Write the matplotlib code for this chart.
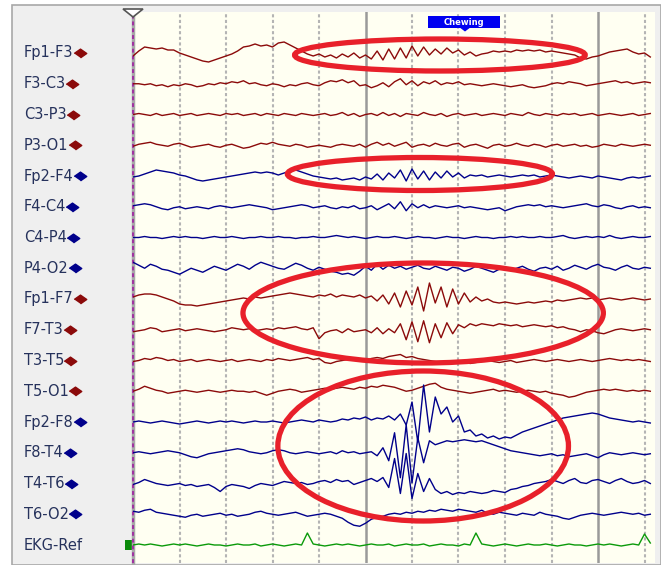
import numpy as np
import matplotlib.pyplot as plt
from matplotlib.patches import Ellipse, Rectangle, Polygon
from matplotlib.lines import Line2D

# montage channels (label, hemisphere)
labels = ["Fp1-F3", "F3-C3", "C3-P3", "P3-O1", "Fp2-F4", "F4-C4", "C4-P4", "P4-O2",
          "Fp1-F7", "F7-T3", "T3-T5", "T5-O1", "Fp2-F8", "F8-T4", "T4-T6", "T6-O2", "EKG-Ref"]
sides = ["L", "L", "L", "L", "R", "R", "R", "R", "L", "L", "L", "L", "R", "R", "R", "R", "E"]

# traced deflections (screen px, up = positive), ~0.125 s per sample over 11.1 s
fp1_f3 = [-3, 2, 6, 5, 4, 5, 3, 3, 0, -2, -4, -6, -8, -9, -7, -5, -3, -1, 2, 6, 7, 9, 7, 8, 6, 10, 11, 8, 5, 2,
          -1, -3, -1, -4, -2, -5, -1, -4, 0, -5, -2, -6, 2, -7, 4, -6, 5, -5, 7, -3, 6, -2, 4, -1, 5, 0, 3, -2, 1, -3,
          -1, 0, 2, 1, 2, 1, 3, 2, 3, 2, 3, 1, 2, 1, 0, -1, -2, -5, -6, -4, -3, -1, 1, 2, 3, 4, 1, -1, 0, -4]
f3_c3 = [0, 0, -1, 0, -2, -1, -3, -1, -2, 0, -1, -3, -2, 0, -1, 1, 0, 2, 1, 3, 0, 1, -1, -2, 0, -1, -3, -1, -2, 0,
         1, -1, -2, 1, 3, 2, 4, 1, 3, -2, -1, -4, -2, 1, -3, 2, 5, -1, 3, -2, 2, 0, 3, -1, 1, 0, 2, -1, 0, -1,
         -2, -1, 0, -1, -2, -3, -2, -1, -3, -4, -3, -2, 0, 1, 0, 2, 1, 0, -2, -1, 0, 1, 2, 3, 1, 2, 0, 1, 2, 1]
c3_p3 = [0, 1, 0, -1, 1, -1, 0, 1, -1, 0, 1, -1, 0, 1, 0, -1, 1, 0, 1, -1, 0, 1, -1, 1, 0, -1, 1, 0, -1, 1,
         0, -1, 0, 1, -1, 0, 2, -1, 1, -2, 0, 1, -1, 2, -1, 1, -2, 1, 0, -1, 2, 0, -1, 1, -2, 0, 1, -1, 0, 1,
         -1, 0, 1, 0, -1, 1, 0, -1, 2, 0, -1, 1, 0, -1, 1, 0, 1, -1, 0, 1, -1, 0, 1, 0, -1, 0, 1, -1, 0, 1]
p3_o1 = [-1, 1, 2, 3, 1, 0, -1, 1, 2, 0, -2, -1, 0, 1, -1, -2, 0, 1, -1, -3, -2, 0, 2, 1, 3, 1, 0, -1, 1, 0,
         -2, -1, 0, -1, -2, 0, 1, 0, -1, 1, -2, 1, 3, 0, 2, -1, 1, 3, -2, 0, 1, -1, 2, 0, -1, 1, 2, -2, 0, 1,
         -1, -3, 0, 1, -1, 0, 2, 0, -1, 1, 0, -2, 0, 1, -1, 0, 1, -1, 0, -2, -1, 1, 0, -1, 1, 0, -1, 0, 1, 0]
fp2_f4 = [-1, 0, 2, 4, 6, 5, 4, 3, 1, 0, -2, -4, -5, -4, -3, -2, -1, 0, 1, 2, 3, 4, 3, 4, 3, 1, 3, 5, 6, 4,
          2, 0, -1, -2, -3, -2, -4, -3, -2, -4, -1, -3, 2, -4, 3, -2, 6, -5, 7, -3, 5, -4, 4, -2, 5, -1, 3, -2, 1, 0,
          1, -1, 0, 1, 0, -1, 0, 1, 0, 1, -1, 0, 1, 0, -1, -2, -1, 0, -1, -2, 0, -1, -2, -3, -4, -2, -1, -2, -1, 0]
f4_c4 = [1, 2, 3, 2, 0, -2, -3, -1, 0, -2, -1, 0, -1, -2, 0, 1, 0, -1, 0, 1, 2, 1, 0, -1, -3, -2, -1, 0, 1, 2,
         1, -1, 0, 1, -1, -2, 0, -1, 1, -2, -1, 1, -3, 0, 3, -2, 5, -4, 3, -1, 2, -1, 1, 0, -1, 0, 1, -1, 0, -1,
         -2, -3, -2, -1, -4, -2, 0, 1, 2, 1, 2, 0, 1, 0, -1, 0, 1, 2, 3, 1, 0, 2, 1, -1, -2, 0, 1, -1, 0, -1]
c4_p4 = [0, 0, 1, 0, 0, -1, 0, 1, 0, 1, 0, 0, -1, 0, 1, 0, 0, 1, 0, -1, 0, 0, 1, 0, 0, 1, 0, 0, -1, 0,
         0, 1, 0, 0, 1, 2, 1, 0, 1, 0, -1, 0, 1, 0, 0, 1, 0, -1, 0, 1, 0, 0, -1, 0, 1, 0, 0, -1, 0, 1,
         0, 0, -1, 0, 0, 1, 0, 1, 0, 0, 1, 0, 0, 1, 2, 0, -1, 0, 1, 0, 1, 0, 2, 0, -1, 0, 1, 0, 0, 1]
p4_o2 = [6, 3, 0, 4, 2, -1, -2, -4, -6, -3, 0, -2, -4, -1, 2, 0, -2, 1, 4, 2, -1, 3, 6, 4, 2, 0, -1, 2, 5, 3,
         0, -2, 1, -1, -3, -4, -6, -5, -7, -3, 2, -2, 4, -1, 3, 0, 2, -1, 1, 3, 0, -1, 2, 0, -2, 1, 0, -3, -1, 2,
         0, -2, -4, -1, 1, -2, 0, 2, -1, -3, 0, 1, -1, 2, -2, 0, 3, 1, -1, 2, 4, 1, 0, -2, 1, 3, 0, -1, 1, 0]
fp1_f7 = [2, 4, 5, 5, 4, 2, 0, -2, -5, -6, -6, -7, -6, -5, -4, -3, -2, -1, 0, 1, 0, 2, 1, 2, 3, 4, 5, 6, 5, 4,
          3, 2, 4, 3, 5, 2, 4, 3, 2, 4, 1, 3, -2, 4, -5, 6, -8, 8, -6, 12, -12, 16, -4, 12, -8, 10, -5, 6, -3, 2,
          -2, 0, -3, -4, -3, -4, -5, -4, -3, -4, -3, -2, -3, -1, -2, -1, 0, 1, 0, 1, -1, 0, 1, 0, -1, 0, 1, 0, -1, 0]
f7_t3 = [-2, -1, 0, 2, 1, -2, -1, 0, 1, -1, 0, 1, 0, -1, -2, -1, 0, 2, 1, 0, 1, -1, 0, 1, 0, 2, 1, 2, 3, 1,
         0, 2, -9, -3, -1, 0, -3, 1, -2, -1, 0, -3, 2, -4, 1, -3, 6, -10, 8, -12, 9, -13, 6, -8, 7, -4, 5, 2, 6, 4,
         6, 5, 4, 6, 5, 4, 5, 3, 4, 5, 4, 3, 4, 2, 3, 1, 0, -2, 0, -1, -3, -4, -2, 0, 1, 0, -1, 0, 1, 0]
t3_t5 = [-1, 0, 2, 1, 3, 2, 0, 1, -1, 0, 1, -1, 0, 1, 0, -1, 0, 1, -1, 0, 1, 0, -1, 1, 0, 2, 1, 0, 1, 2,
         3, 1, 2, -2, -3, -1, 0, 1, 2, 1, 0, 2, 3, 2, 4, 5, 6, 3, 4, 2, 1, 0, -1, -2, -1, -3, -2, -1, -3, -2,
         -1, 0, -1, -2, -1, 0, -2, -1, 0, 1, 0, -1, 0, 1, 0, -1, 0, 1, 0, -1, 0, 1, 2, 1, 0, 1, 0, 1, 0, -1]
t5_o1 = [0, 2, 5, 3, 1, 0, -2, -1, 0, 1, 0, -1, 0, 1, 0, -1, 0, 1, 0, 0, -1, 0, -2, -4, -2, 0, 1, 2, 1, -1,
         0, 1, 2, 3, 2, 3, 4, 3, 2, 4, 3, 5, 4, 6, 5, 4, 2, 0, 1, 3, 5, 7, 8, 4, 2, 1, 0, -1, -2, -1,
         0, 1, 2, 0, 1, 0, -1, 0, 1, 0, -1, 0, -2, -3, -4, -6, -5, -3, -1, 0, 1, 2, 1, 2, 1, 0, 1, 0, 1, 0]
fp2_f8 = [0, 1, 0, -1, 0, 1, 0, -1, -2, -1, 0, 1, 0, -1, 0, 1, 0, 1, 0, -1, 0, 1, 0, 0, 1, 0, -1, 0, 1, 2,
          1, 0, 2, 1, 0, 1, 3, 2, 4, 3, 5, 2, 4, 3, 6, 2, 8, -3, 20, -20, 37, -10, 25, 8, 15, 0, 6, -10, -8, -14,
          -12, -16, -14, -17, -15, -16, -13, -10, -8, -6, -4, -2, 0, 2, 4, 5, 6, 7, 8, 9, 8, 6, 4, 3, 2, 1, 0, 1, 0, -1]
f8_t4 = [0, 1, 0, -1, 0, 1, 2, 1, 0, -2, -4, -5, -3, -1, 0, 1, 2, 3, 4, 3, 1, 0, -1, 0, 2, 3, 2, 0, -1, 0,
         1, 0, -1, 0, 1, -1, 2, 0, 1, -1, 0, 1, -3, 5, -8, 20, -25, 28, -30, 15, -10, 12, 8, 10, 12, 11, 12, 13, 12, 11,
         12, 10, 8, 6, 4, 2, 1, 0, -1, -2, -3, -2, -1, -3, -2, -4, -3, -2, -1, -3, -5, -2, 0, -1, -2, -1, 0, -1, -2, -1]
t4_t6 = [-1, 1, 4, 2, 0, -1, -2, -1, 0, -2, -1, -3, -2, -1, -4, -8, -3, -1, -2, -3, -5, -2, 0, -1, -2, 0, 2, 1, 0, 1,
         -1, 0, 2, 3, 1, 4, 2, 3, -1, 1, 3, 5, 2, 6, -4, 25, -10, 30, -15, 10, -8, 5, -6, -10, -8, -11, -9, -10, -8, -9,
         -10, -9, -7, -8, -9, -6, -5, -3, -2, 0, 1, 2, 4, 2, 0, 3, 5, 1, 0, 3, 4, 2, 0, 3, 5, 2, 0, 1, 3, 0]
t6_o2 = [3, 2, 4, 5, 2, 1, 0, -1, -2, -3, -1, 0, -2, -1, 0, 1, -1, 0, -2, -1, 0, 2, 3, 1, 0, -1, 0, 1, 2, 0,
         -2, -1, 0, 1, 0, -2, -4, -8, -11, -12, -9, -5, -3, -2, 0, 1, 0, 2, 1, 3, 2, 4, 3, 5, 4, 3, 5, 4, 3, 2,
         4, 1, 0, 2, 1, 0, -1, 1, 0, -1, 2, 0, -1, -2, -4, -5, -3, -1, 0, 1, 0, -1, 0, 1, 2, 1, 0, 1, -1, 0]
ekg_ref = [0, 1, 0, 1, 0, -1, 0, 1, 0, 1, 0, -1, 0, 1, 0, 0, -1, 0, 1, 0, 0, 1, -1, 0, 1, 0, -1, 0, 1, 0,
           12, 1, 0, -1, 0, 1, 0, 1, 0, -1, 0, 1, 0, 0, 1, -1, 0, 1, 0, 0, 1, -1, 0, 1, 0, 0, -1, 1, 0, 12,
           1, 0, -1, 0, 1, 0, -1, 0, 1, 0, 0, 1, 0, -1, 0, 1, 0, 0, -1, 0, 1, 0, 1, 0, -1, 0, 1, 0, 11, 2]

traces = [fp1_f3, f3_c3, c3_p3, p3_o1, fp2_f4, f4_c4, c4_p4, p4_o2,
          fp1_f7, f7_t3, t3_t5, t5_o1, fp2_f8, f8_t4, t4_t6, t6_o2, ekg_ref]

# annotated events: (centre s, centre row, width s, height rows)
events = [(6.6, 55, 6.25, 32), (6.17, 174, 5.7, 33), (6.24, 313, 7.75, 100), (6.24, 446, 6.25, 150)]

W, H = 661, 565
PX_PER_S = 46.5
side_col = {"L": "#8b0a0a", "R": "#00008b", "E": "#0a9a0a"}

fig = plt.figure(figsize=(W / 100, H / 100), dpi=100)
frame = Rectangle((12 / W, 0), 1 - 12 / W, 1 - 5 / H, transform=fig.transFigure,
                  facecolor="#efefef", edgecolor="#a8a8a8", lw=1.2, zorder=-5)
fig.patches.append(frame)

ax = fig.add_axes([133 / W, 2 / H, 522 / W, 551 / H])
ax.set_zorder(2)
ax.set_facecolor("#fffff2")
ax.set_xlim(0, 522 / PX_PER_S)
ax.set_ylim(563, 12)
ax.set_xticks([])
ax.set_yticks([])
for s in ax.spines.values():
    s.set_visible(False)

for sec in range(1, 12):
    if sec % 5 == 0:
        ax.axvline(sec, color="#9a9a9a", lw=1.8, zorder=1)
    else:
        ax.axvline(sec, color="#b4b4b4", lw=1.5, ls=(0, (1.5, 1.2)), zorder=1)
ax.axvline(0, color="#a8a8a8", lw=2.5, clip_on=False, zorder=2)
ax.axvline(0, color="#a030a0", lw=1.4, ls=(0, (2, 1.5)), clip_on=False, zorder=3)

for i, (vals, side) in enumerate(zip(traces, sides)):
    base = 53 + i * 30.75
    t = np.linspace(0, 11.125, len(vals))
    ax.plot(t, base - np.array(vals), color=side_col[side], lw=1.0, zorder=4)

for cx, cy, w, h in events:
    ax.add_patch(Ellipse((cx, cy), w, h, fill=False, edgecolor="#e8202a", lw=3.8, zorder=6))

# event tag
x0, x1 = (428 - 133) / PX_PER_S, (500 - 133) / PX_PER_S
ax.add_patch(Rectangle((x0, 16), x1 - x0, 12, facecolor="#0000f0", edgecolor="none", zorder=7))
xm = (465 - 133) / PX_PER_S
ax.add_patch(Polygon([(xm - 0.1, 28), (xm + 0.1, 28), (xm, 31.5)], closed=True,
                     facecolor="#0000f0", edgecolor="none", zorder=7, clip_on=False))
ax.text((x0 + x1) / 2, 22.5, "Chewing", color="white", fontsize=6, fontweight="bold",
        ha="center", va="center", zorder=8)

# time cursor
ax.add_patch(Polygon([(-10 / PX_PER_S, 9), (10 / PX_PER_S, 9), (0, 17)], closed=True,
                     facecolor="white", edgecolor="#555555", lw=1.2, zorder=8, clip_on=False))

# channel labels
texts = []
for i, lab in enumerate(labels):
    yb = 1 - (53 + i * 30.75) / H
    texts.append(fig.text(24 / W, yb, lab, fontsize=10.5, color="#26325c", ha="left", va="center"))

fig.canvas.draw()
rend = fig.canvas.get_renderer()
for i, (txt, side) in enumerate(zip(texts, sides)):
    yb = 1 - (53 + i * 30.75) / H
    if side == "E":
        fig.patches.append(Rectangle((125 / W, yb - 5 / H), 8 / W, 10 / H, transform=fig.transFigure,
                                     facecolor="#0a8a0a", edgecolor="none"))
    else:
        bb = txt.get_window_extent(rend)
        fig.add_artist(Line2D([(bb.x1 + 6) / W], [yb], transform=fig.transFigure,
                              marker=[(-1, 0), (0, 0.7), (1, 0), (0, -0.7)],
                              markersize=9, color=side_col[side], ls="none"))

fig.savefig("out.png", dpi=100)
